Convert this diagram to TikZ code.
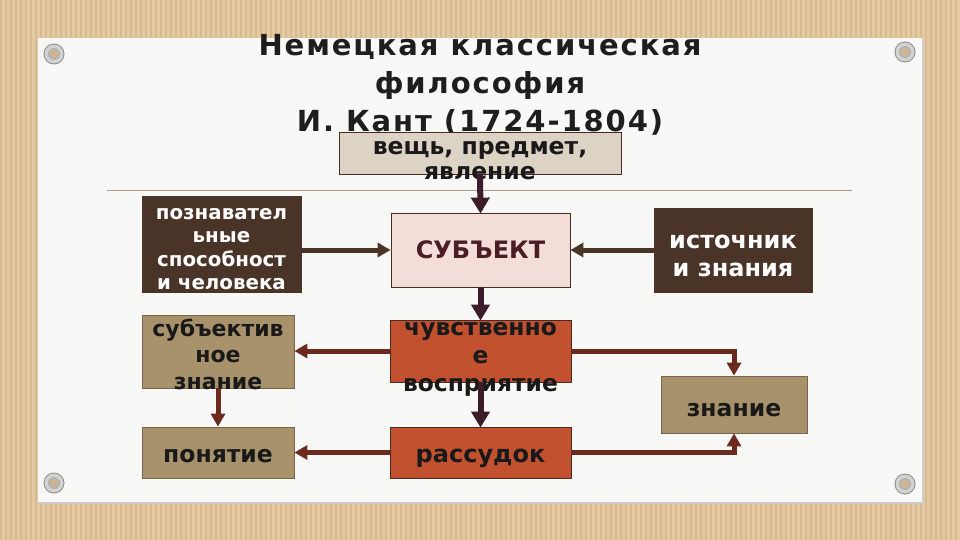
\documentclass[tikz,border=0pt]{standalone}
\usepackage{fontspec}
\setmainfont{DejaVu Sans}
\newfontfamily\titlefont{DejaVu Sans}[LetterSpace=6.6]
\usetikzlibrary{arrows.meta}
\definecolor{woodbg}{HTML}{E4C9A2}
\definecolor{woodstripe}{HTML}{D8BA8F}
\definecolor{cardwhite}{HTML}{F8F8F7}
\definecolor{rulecol}{HTML}{A69A86}
\definecolor{beigebox}{HTML}{DCD3C5}
\definecolor{darkbox}{HTML}{4A3427}
\definecolor{pinkbox}{HTML}{F3DDD8}
\definecolor{tanbox}{HTML}{A8926C}
\definecolor{orangebox}{HTML}{C2512F}
\definecolor{boxline}{HTML}{4A2A22}
\definecolor{subjtext}{HTML}{4B1D24}
\definecolor{arrpurple}{HTML}{3D1C2B}
\definecolor{arrbrown}{HTML}{4A3427}
\definecolor{arrred}{HTML}{6B2A1D}
\definecolor{titlecol}{HTML}{1E1E1E}
\tikzset{
  boxnode/.style={draw=boxline, line width=0.8pt, inner sep=0pt, rectangle},
  txt/.style={align=center, inner sep=0pt, font=\bfseries},
  arrpur/.style={draw=arrpurple, line width=6pt, -{Triangle[length=16pt,width=18pt]}, shorten >=-1pt},
  arrbr/.style={draw=arrbrown, line width=5pt, -{Triangle[length=13pt,width=14pt]}},
  arrrd/.style={draw=arrred, line width=5pt, -{Triangle[length=13pt,width=14pt]}},
}
\begin{document}
\begin{tikzpicture}[x=1pt,y=-1pt]
\useasboundingbox (0,0) rectangle (960,540);
% wooden background
\fill[woodbg] (0,0) rectangle (960,540);
\foreach \i in {0,5,...,955} {\fill[woodstripe] (\i,0) rectangle (\i+2,540);}
% card
\fill[black!20] (40,40) rectangle (924,504);
\fill[cardwhite] (38,38) rectangle (922,502);
% pins
\foreach \px/\py in {54/54, 905/52, 54/483, 905/484} {
  \fill[black!45] (\px,\py) circle (10.5);
  \fill[gray!35] (\px,\py) circle (9.5);
  \fill[gray!60] (\px,\py) circle (6);
  \fill[woodbg!90!black] (\px,\py) circle (4.5);
}
% rule
\draw[rulecol, line width=1pt] (107,190) -- (852,190);
% title
\node[txt, text=titlecol, font=\titlefont\bfseries\fontsize{29}{38}\selectfont] (title) at (480,85)
  {Немецкая классическая\\философия\\И. Кант (1724-1804)};
% boxes
\node[boxnode, fill=beigebox, minimum width=282pt, minimum height=42pt] (v) at (480,153) {};
\node[boxnode, fill=darkbox, draw=darkbox, minimum width=159pt, minimum height=96pt] (p) at (221.5,244) {};
\node[boxnode, fill=pinkbox, minimum width=179pt, minimum height=74pt] (s) at (480.5,250) {};
\node[boxnode, fill=darkbox, draw=darkbox, minimum width=158pt, minimum height=84pt] (i) at (733,250) {};
\node[boxnode, fill=tanbox, draw=tanbox!70!black, minimum width=152pt, minimum height=73pt] (sz) at (218,351.5) {};
\node[boxnode, fill=tanbox, draw=tanbox!70!black, minimum width=152pt, minimum height=51pt] (pn) at (218,452.5) {};
\node[boxnode, fill=orangebox, minimum width=181pt, minimum height=62pt] (ch) at (480.5,351) {};
\node[boxnode, fill=orangebox, minimum width=181pt, minimum height=51pt] (r) at (480.5,452.5) {};
\node[boxnode, fill=tanbox, draw=tanbox!70!black, minimum width=146pt, minimum height=57pt] (z) at (734,404.5) {};
% texts
\node[txt, text=black!90, font=\bfseries\fontsize{23.5}{25}\selectfont] (vt) at (480,161) {вещь, предмет,\\явление};
\node[txt, text=white, font=\bfseries\fontsize{19.8}{23.5}\selectfont] (pt) at (221.5,249) {познавател\\ьные\\способност\\и человека};
\node[txt, text=subjtext, font=\bfseries\fontsize{24}{28}\selectfont] (st) at (480.5,250) {СУБЪЕКТ};
\node[txt, text=white, font=\bfseries\fontsize{24}{28}\selectfont] (it) at (733,256) {источник\\и знания};
\node[txt, text=black!90, font=\bfseries\fontsize{22}{26.5}\selectfont] (szt) at (218,354) {субъектив\\ное\\знание};
\node[txt, text=black!90, font=\bfseries\fontsize{23.5}{28}\selectfont] (pnt) at (218,456) {понятие};
\node[txt, text=black!90, font=\bfseries\fontsize{23.4}{28}\selectfont] (cht) at (480.5,359) {чувственно\\е\\восприятие};
\node[txt, text=black!90, font=\bfseries\fontsize{24}{28}\selectfont] (rt) at (480.5,458) {рассудок};
\node[txt, text=black!90, font=\bfseries\fontsize{23.5}{28}\selectfont] (zt) at (734,410) {знание};
% arrows
\draw[arrpur] (v.south) -- (s.north);
\draw[arrbr] (s.west -| p.east) -- (s.west);
\draw[arrbr] (i.west) -- (s.east);
\draw[arrpur] (s.south) -- (ch.north);
\draw[arrrd] (ch.west) -- (sz.east |- ch.west);
\draw[arrpur] (ch.south) -- (r.north);
\draw[arrrd] (sz.south) -- (pn.north);
\draw[arrrd] (r.west) -- (pn.east);
\draw[arrrd] (ch.east) -| (z.north);
\draw[arrrd] (r.east) -| (z.south);
\end{tikzpicture}
\end{document}
